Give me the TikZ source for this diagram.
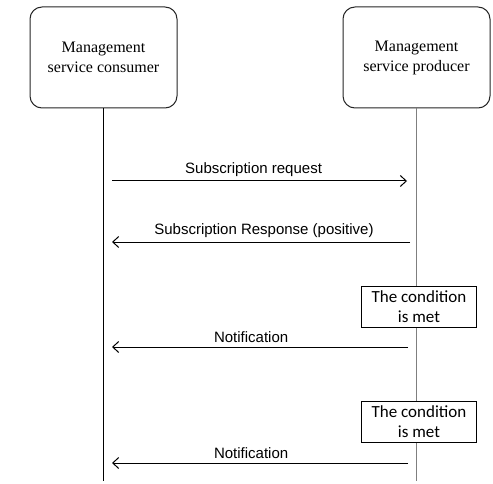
\documentclass[tikz,border=0pt]{standalone}
\usepackage{fontspec}
\setmainfont{Liberation Serif}
\newfontfamily\msgfont{Liberation Sans}
\newfontfamily\condfont{Carlito}
\usetikzlibrary{arrows.meta, positioning}
\definecolor{lineGray}{HTML}{7F7F7F}
\definecolor{boxBorder}{HTML}{262626}
\tikzset{
  entityBox/.style={rectangle, rounded corners=12pt, draw=boxBorder, fill=white,
                    align=center, font=\fontsize{16}{20}\selectfont,
                    minimum width=147pt, minimum height=101pt, inner sep=2pt, line width=1pt},
  condBox/.style={rectangle, draw=black, fill=white, align=center,
                  font=\condfont\fontsize{17}{20}\selectfont,
                  minimum width=115pt, minimum height=41pt, inner sep=1pt, line width=1pt},
  lifeLine/.style={draw=black, line width=1pt},
  msgArrow/.style={-{Straight Barb[length=6pt, width=11pt]}, black, line width=1pt},
  msgLabel/.style={above, font=\msgfont\fontsize{15}{18}\selectfont, inner sep=4pt},
}
\begin{document}
\begin{tikzpicture}[x=1pt, y=1pt]
  \useasboundingbox (0,0) rectangle (493,483);
  % the two parties
  \node[entityBox] (cons) at (103.5,425.5) {Management\\service consumer};
  \node[entityBox, right=165pt of cons] (prod) {Management\\service producer};
  % lifelines
  \coordinate (consEnd) at (cons.south |- 0,2);
  \coordinate (prodEnd) at (prod.south |- 0,2);
  \draw[lifeLine] (cons) -- (consEnd);
  \draw[lifeLine, draw=lineGray] (prod) -- (prodEnd);
  % condition checks on the producer side
  \node[condBox] (cond1) at (419,176.5) {The condition\\is met};
  \node[condBox] (cond2) at (419,61) {The condition\\is met};
  % message end points
  \coordinate (reqA) at (112,302);  \coordinate (reqB) at (407,302);
  \coordinate (rspA) at (410,241);  \coordinate (rspB) at (112,241);
  \coordinate (ntfA) at (408,136);  \coordinate (ntfB) at (112,136);
  \coordinate (ntgA) at (408,20);   \coordinate (ntgB) at (112,20);
  % messages
  \draw[msgArrow] (reqA) -- node[msgLabel, pos=0.48] {Subscription request} (reqB);
  \draw[msgArrow] (rspA) -- node[msgLabel, pos=0.49] {Subscription Response (positive)} (rspB);
  \draw[msgArrow] (ntfA) -- node[msgLabel, pos=0.53] {Notification} (ntfB);
  \draw[msgArrow] (ntgA) -- node[msgLabel, pos=0.53] {Notification} (ntgB);
\end{tikzpicture}
\end{document}
